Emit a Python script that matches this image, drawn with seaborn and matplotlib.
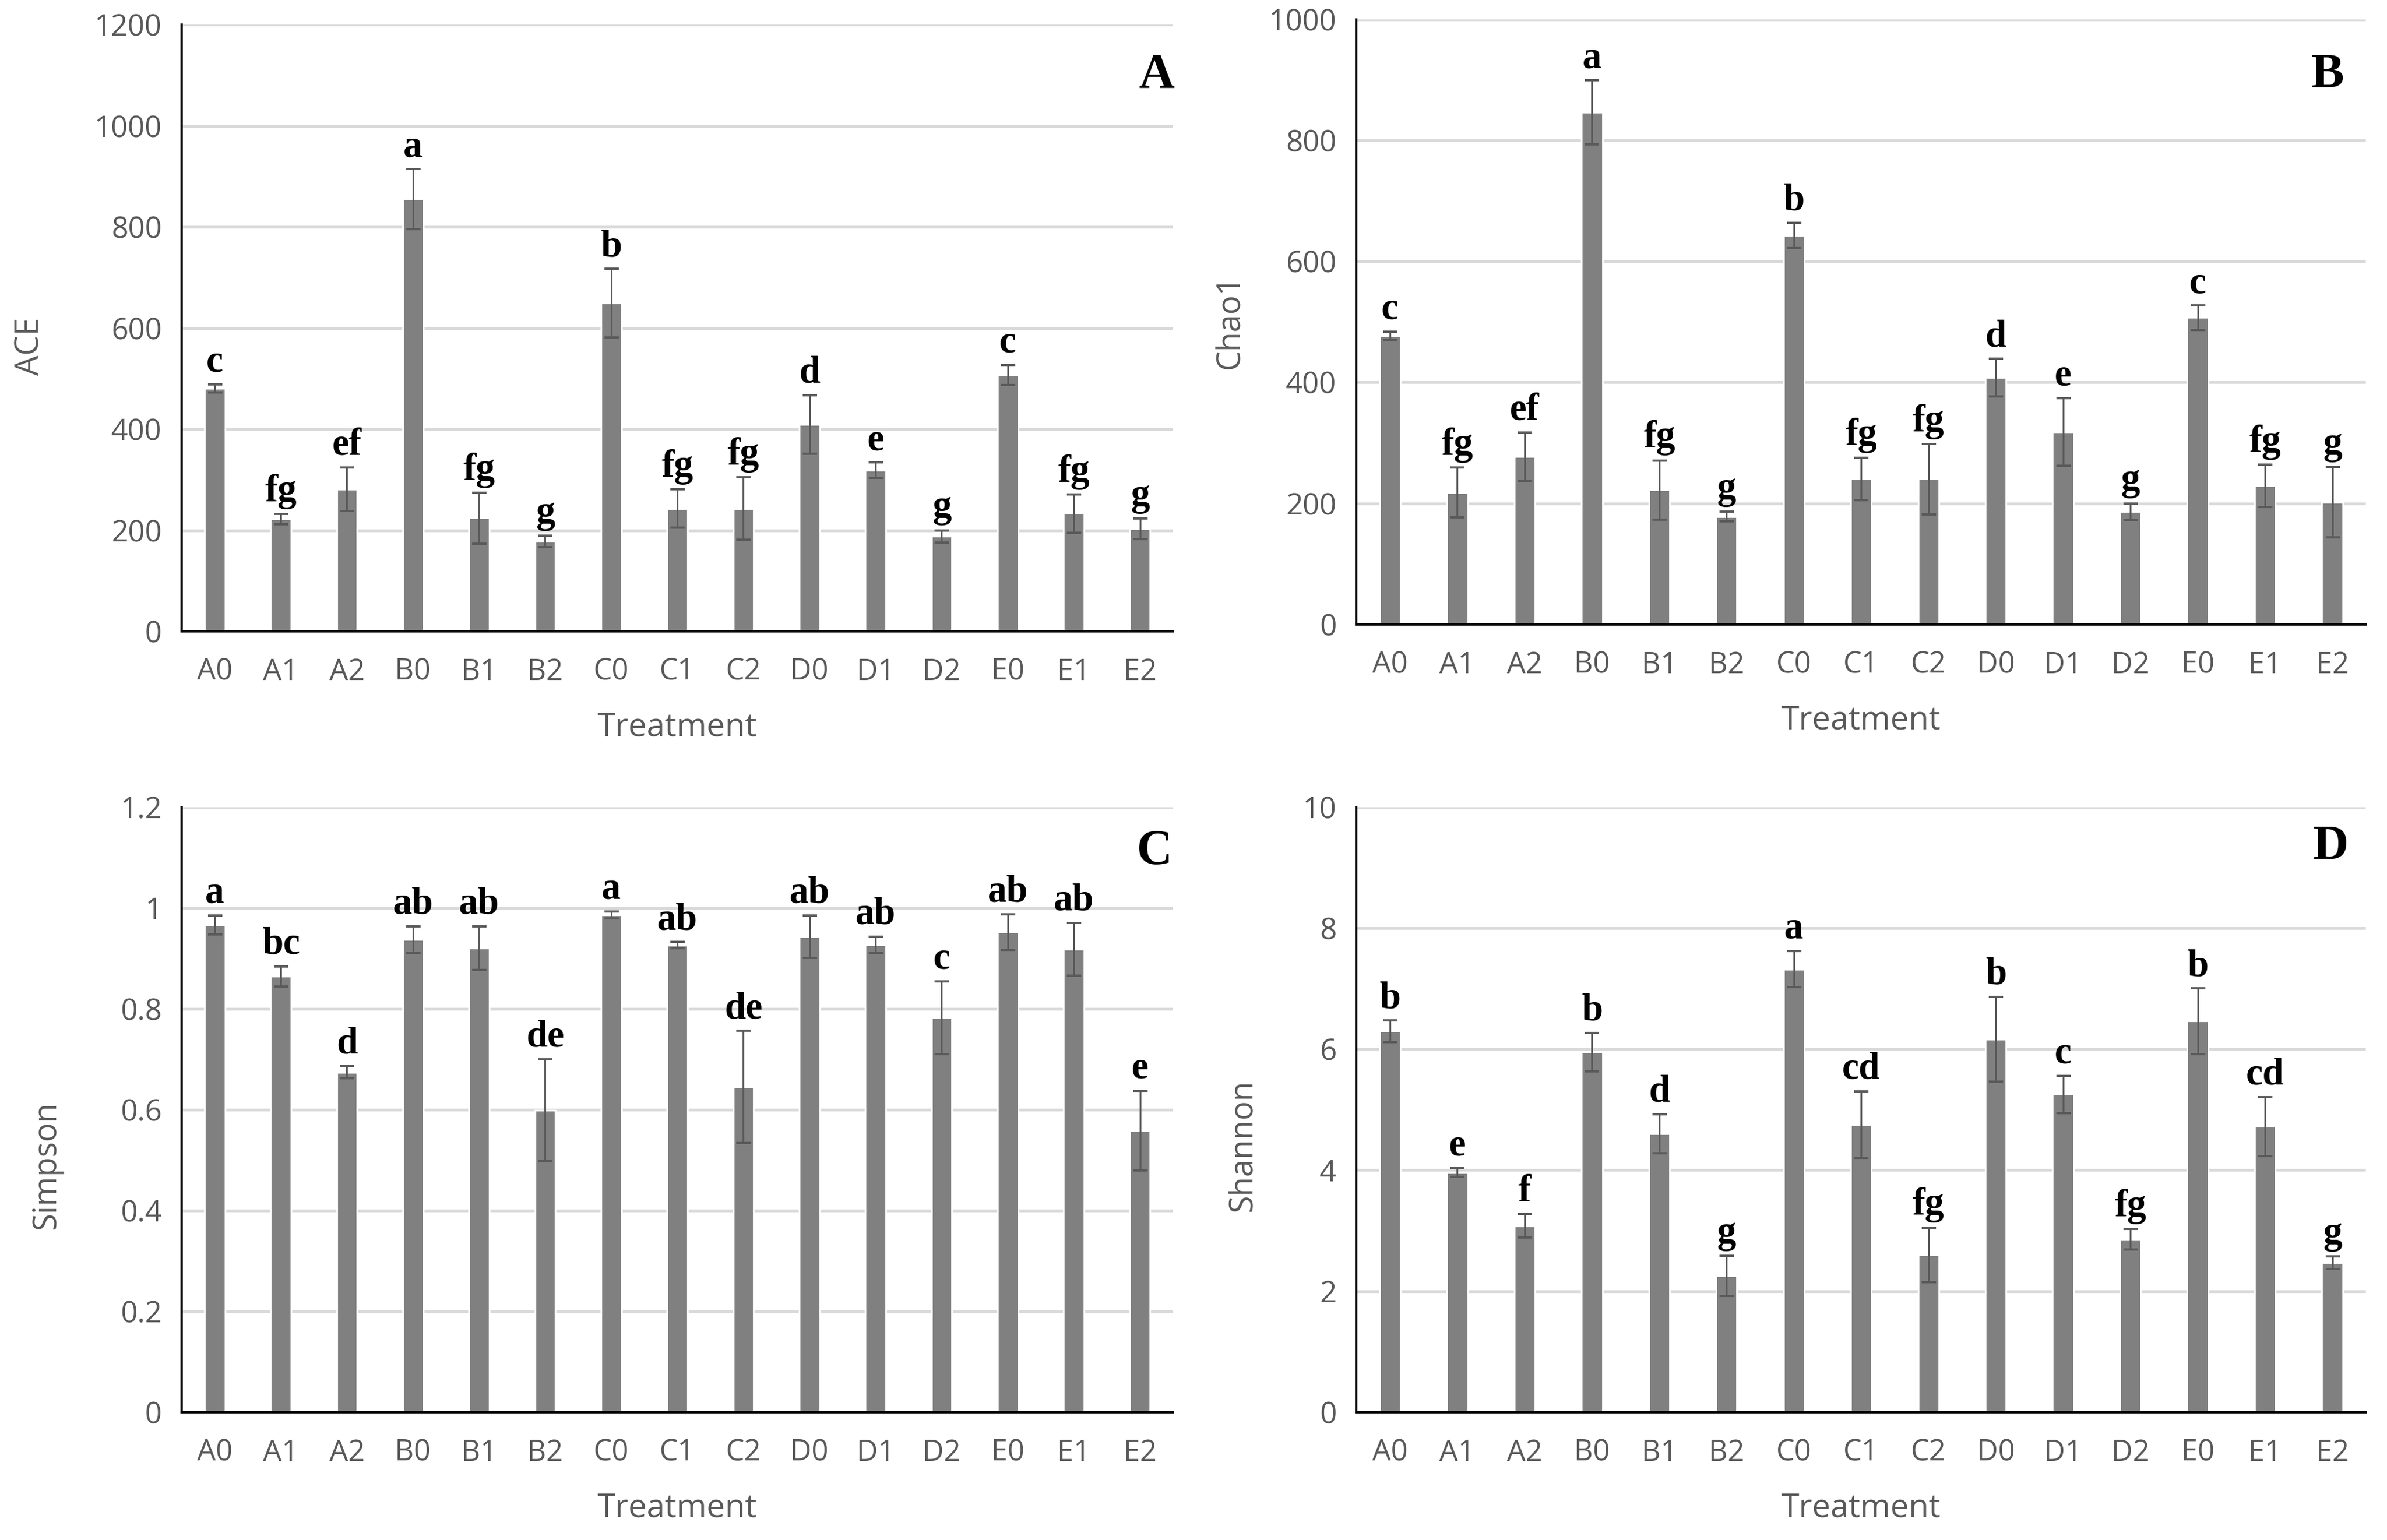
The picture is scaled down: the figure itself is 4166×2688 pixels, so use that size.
import numpy as np
import pandas as pd
import matplotlib
matplotlib.use("Agg")
import matplotlib.pyplot as plt
import seaborn as sns

# ---------------- data ----------------
treatments = ['A0', 'A1', 'A2', 'B0', 'B1', 'B2', 'C0', 'C1', 'C2',
              'D0', 'D1', 'D2', 'E0', 'E1', 'E2']

ace_mean = [481, 222, 281, 855, 224, 178, 649, 243, 243, 409, 319, 188, 507, 233, 203]
ace_err = [8, 10, 43, 59, 50, 11, 68, 38, 62, 58, 15, 12, 20, 38, 20]
ace_letters = ['c', 'fg', 'ef', 'a', 'fg', 'g', 'b', 'fg', 'fg', 'd', 'e', 'g', 'c', 'fg', 'g']

chao_mean = [477, 218, 277, 846, 222, 178, 643, 240, 240, 408, 318, 186, 507, 229, 202]
chao_err = [7, 41, 40, 53, 49, 8, 21, 35, 58, 31, 56, 14, 20, 35, 58]
chao_letters = ['c', 'fg', 'ef', 'a', 'fg', 'g', 'b', 'fg', 'fg', 'd', 'e', 'g', 'c', 'fg', 'g']

simpson_mean = [0.966, 0.864, 0.674, 0.937, 0.920, 0.599, 0.986, 0.926, 0.645,
                0.943, 0.927, 0.782, 0.952, 0.918, 0.558]
simpson_err = [0.019, 0.020, 0.012, 0.026, 0.043, 0.101, 0.007, 0.006, 0.111,
               0.042, 0.016, 0.072, 0.035, 0.052, 0.079]
simpson_letters = ['a', 'bc', 'd', 'ab', 'ab', 'de', 'a', 'ab', 'de', 'ab', 'ab', 'c', 'ab', 'ab', 'e']

shannon_mean = [6.29, 3.96, 3.08, 5.95, 4.60, 2.25, 7.32, 4.75, 2.60, 6.16, 5.25, 2.86, 6.46, 4.72, 2.47]
shannon_err = [0.18, 0.07, 0.19, 0.32, 0.32, 0.33, 0.30, 0.55, 0.45, 0.70, 0.31, 0.17, 0.54, 0.49, 0.105]
shannon_letters = ['b', 'e', 'f', 'b', 'd', 'g', 'a', 'cd', 'fg', 'b', 'c', 'fg', 'b', 'cd', 'g']

ace_ticks = [0, 200, 400, 600, 800, 1000, 1200]
ace_ticklabels = ['0', '200', '400', '600', '800', '1000', '1200']
chao_ticks = [0, 200, 400, 600, 800, 1000]
chao_ticklabels = ['0', '200', '400', '600', '800', '1000']
simpson_ticks = [0, 0.2, 0.4, 0.6, 0.8, 1.0, 1.2]
simpson_ticklabels = ['0', '0.2', '0.4', '0.6', '0.8', '1', '1.2']
shannon_ticks = [0, 2, 4, 6, 8, 10]
shannon_ticklabels = ['0', '2', '4', '6', '8', '10']

panel_names = ['A', 'B', 'C', 'D']
y_labels = ['ACE', 'Chao1', 'Simpson', 'Shannon']
x_label = 'Treatment'

# ---------------- style ----------------
sns.set_theme(style='white')
plt.rcParams['font.family'] = ['Open Sans', 'DejaVu Sans']

BAR = '#808080'
ERR = '#595959'
TXT = '#595959'
GRID = '#d9d9d9'

fig = plt.figure(figsize=(20.83, 13.44), dpi=200)

# [left, bottom, width, height] in figure fractions
rects = [
    [0.0761, 0.590, 0.4153, 0.394],
    [0.5682, 0.5945, 0.4230, 0.393],
    [0.0761, 0.083, 0.4153, 0.393],
    [0.5682, 0.083, 0.4230, 0.393],
]
ylabel_pos = [(-0.1526, 0.470), (-0.1249, 0.5005), (-0.1358, 0.408), (-0.1124, 0.440)]
letter_pos = [(0.983, 0.916), (0.962, 0.907), (0.9815, 0.925), (0.965, 0.933)]

datasets = [
    (ace_mean, ace_err, ace_letters, ace_ticks, ace_ticklabels, 1200),
    (chao_mean, chao_err, chao_letters, chao_ticks, chao_ticklabels, 1000),
    (simpson_mean, simpson_err, simpson_letters, simpson_ticks, simpson_ticklabels, 1.2),
    (shannon_mean, shannon_err, shannon_letters, shannon_ticks, shannon_ticklabels, 10),
]

for i, (mean, err, letters, ticks, ticklabels, ymax) in enumerate(datasets):
    ax = fig.add_axes(rects[i])
    df = pd.DataFrame({'Treatment': treatments, 'value': mean, 'err': err})
    sns.barplot(data=df, x='Treatment', y='value', color=BAR, saturation=1,
                width=0.31, errorbar=None, ax=ax, zorder=2)
    xpos = np.arange(len(treatments))
    ax.errorbar(xpos, df['value'], yerr=df['err'], fmt='none', ecolor=ERR,
                elinewidth=1.1, capsize=4.5, capthick=1.4, zorder=3)
    for xp, m, e, lab in zip(xpos, mean, err, letters):
        ax.annotate(lab, xy=(xp, m + e), xytext=(0, 8), textcoords='offset points',
                    ha='center', va='baseline', fontsize=24, fontweight='bold',
                    family=['Liberation Serif', 'DejaVu Serif'], color='black', zorder=4)

    ax.set_xlim(-0.5, len(treatments) - 0.5)
    ax.set_ylim(0, ymax)
    ax.set_yticks(ticks)
    ax.set_yticklabels(ticklabels)
    ax.yaxis.grid(True, color=GRID, linewidth=1.7)
    ax.xaxis.grid(False)
    ax.set_axisbelow(True)
    for s in ['top', 'right']:
        ax.spines[s].set_visible(False)
    for s in ['left', 'bottom']:
        ax.spines[s].set_color('black')
        ax.spines[s].set_linewidth(1.5)
        ax.spines[s].set_zorder(5)
    ax.tick_params(axis='both', length=0, labelsize=18.5, labelcolor=TXT)
    ax.tick_params(axis='y', pad=12.5)
    ax.tick_params(axis='x', pad=16.5)

    ax.set_ylabel(y_labels[i], fontsize=20, color=TXT, va='center')
    ax.yaxis.set_label_coords(*ylabel_pos[i])
    ax.set_xlabel(x_label, fontsize=20.5, color=TXT, va='center')
    ax.xaxis.set_label_coords(0.5, -0.159)

    ax.text(letter_pos[i][0], letter_pos[i][1], panel_names[i], transform=ax.transAxes,
            ha='center', va='center', fontsize=31, fontweight='bold',
            family=['Liberation Serif', 'DejaVu Serif'], color='black')

fig.savefig('out.png', dpi=200, facecolor='white')
